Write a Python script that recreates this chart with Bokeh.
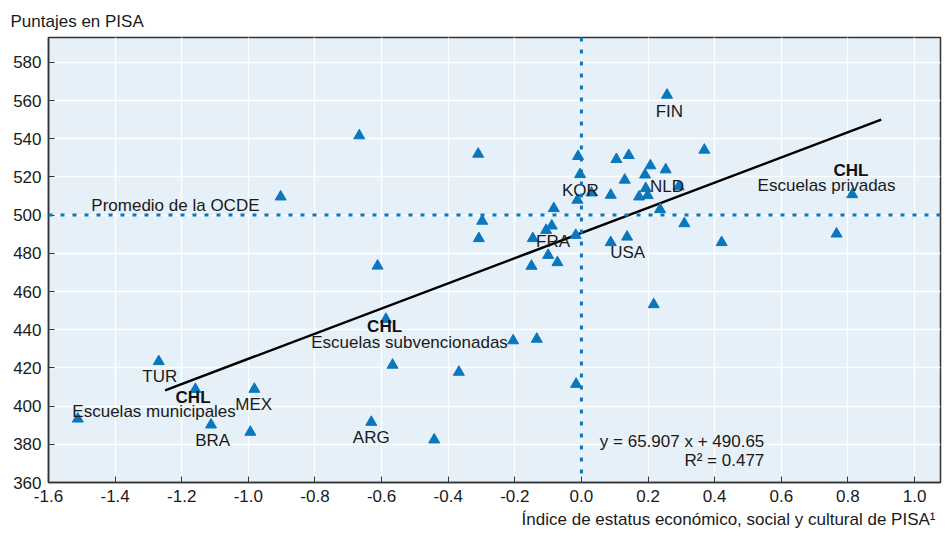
from bokeh.plotting import figure
from bokeh.models import Span, Label, Title, FixedTicker, Range1d
from bokeh.core.properties import value
from bokeh.embed import file_html
from bokeh.resources import INLINE

# ---- data ----
escs = [-1.512, -1.159, -1.269, -0.982, -1.112, -0.994, -0.631, -0.442, -0.587, -0.567,
        -0.368, -0.205, -0.134, -0.016, -0.667, -0.310, -0.298, -0.308, -0.612, -0.903,
        -0.083, -0.089, -0.106, -0.146, -0.100, -0.150, -0.072, 0.257, -0.010, 0.105,
        0.142, 0.369, 0.207, 0.253, -0.004, 0.191, 0.130, 0.193, 0.292, 0.030,
        0.088, 0.173, 0.199, -0.012, 0.236, 0.309, -0.017, 0.088, 0.137, 0.421,
        0.217, 0.813, 0.766]
scores = [393.3, 408.8, 423.4, 408.9, 390.2, 386.4, 391.6, 382.4, 445.5, 421.5,
          417.8, 434.3, 435.1, 411.5, 541.6, 532.0, 496.9, 487.8, 473.4, 509.6,
          503.5, 494.4, 492.1, 487.8, 479.0, 473.3, 475.2, 562.9, 530.8, 529.2,
          531.3, 534.1, 525.9, 523.8, 521.3, 521.1, 518.4, 514.0, 514.9, 511.7,
          510.5, 509.6, 510.3, 507.9, 503.0, 495.6, 489.5, 485.7, 488.6, 485.7,
          453.2, 510.8, 490.2]

country_labels = ["FIN", "KOR", "NLD", "FRA", "USA", "TUR", "MEX", "BRA", "ARG"]
country_label_x = [0.264, -0.003, 0.257, -0.085, 0.139, -1.266, -0.984, -1.107, -0.631]
country_label_y = [554.2, 513.1, 514.8, 486.0, 480.2, 415.6, 400.9, 382.0, 383.7]

chl_labels = ["CHL", "CHL", "CHL"]
chl_label_x = [-1.166, -0.591, 0.809]
chl_label_y = [404.7, 441.8, 523.6]

school_labels = ["Escuelas municipales", "Escuelas subvencionadas", "Escuelas privadas"]
school_label_x = [-1.283, -0.516, 0.736]
school_label_y = [397.2, 433.2, 515.5]

oecd_mean = 500
oecd_label = "Promedio de la OCDE"
slope = 65.907
intercept = 490.65
r2 = 0.477
fit_x = [-1.25, 0.9]
fit_y = [slope * v + intercept for v in fit_x]

x_ticks = [-1.6, -1.4, -1.2, -1.0, -0.8, -0.6, -0.4, -0.2, 0.0, 0.2, 0.4, 0.6, 0.8, 1.0]
y_ticks = [360, 380, 400, 420, 440, 460, 480, 500, 520, 540, 560, 580]

y_title = "Puntajes en PISA"
x_title = "Índice de estatus económico, social y cultural de PISA¹"

# ---- styles ----
FONT = "Liberation Sans"
BLUE = "#0A77BD"
DARK = "#333333"
BG = "#E5F0F8"
TXT = "#1a1a1a"

p = figure(width=942, height=537, output_backend="svg", toolbar_location=None,
           x_range=Range1d(-1.6, 1.078), y_range=Range1d(360, 593),
           min_border_left=48, min_border_right=2, min_border_top=37, min_border_bottom=55)
p.background_fill_color = BG
p.border_fill_color = "white"
p.outline_line_color = DARK
p.outline_line_width = 1.5

p.title.text = y_title
p.title.align = "left"
p.title.offset = -38
p.title.text_font = FONT
p.title.text_font_size = "17px"
p.title.text_font_style = "normal"
p.title.text_color = TXT
p.title.standoff = 14

p.xgrid.grid_line_color = "white"
p.ygrid.grid_line_color = "white"
p.xgrid.grid_line_width = 1.5
p.ygrid.grid_line_width = 1.5

p.xaxis.ticker = FixedTicker(ticks=x_ticks)
p.yaxis.ticker = FixedTicker(ticks=y_ticks)
p.xaxis.major_label_overrides = {t: f"{t:.1f}" for t in x_ticks}
for ax in (p.xaxis, p.yaxis):
    ax.axis_line_color = DARK
    ax.axis_line_width = 1.5
    ax.major_tick_line_color = DARK
    ax.major_tick_line_width = 1
    ax.major_tick_in = 6
    ax.major_tick_out = 0
    ax.minor_tick_line_color = None
    ax.major_label_text_font = FONT
    ax.major_label_text_font_size = "17px"
    ax.major_label_text_color = TXT
    ax.major_label_standoff = 7

p.add_layout(Span(location=0, dimension="height", line_color=BLUE, line_width=3, line_dash="4 8"))
p.add_layout(Span(location=oecd_mean, dimension="width", line_color=BLUE, line_width=3, line_dash="4 8"))

p.line(fit_x, fit_y, line_color="black", line_width=2.5)

p.scatter(escs, scores, marker="triangle", size=11, fill_color=BLUE, line_color=BLUE)

txt = dict(text_font=value(FONT), text_font_size="17px", text_color=TXT,
           text_align="center", text_baseline="middle")
p.text(country_label_x, country_label_y, text=country_labels, **txt)
p.text(school_label_x, school_label_y, text=school_labels, **txt)
p.text(chl_label_x, chl_label_y, text=chl_labels, text_font=value(FONT), text_font_size="17px",
       text_font_style="bold", text_color="#111111", text_align="center", text_baseline="middle")

p.add_layout(Label(x=-1.219, y=505.2, text=oecd_label, text_font=FONT, text_font_size="17px",
                   text_color=TXT, text_align="center", text_baseline="middle"))
p.add_layout(Label(x=0.549, y=381.5, text=f"y = {slope} x + {intercept}", text_font=FONT,
                   text_font_size="17px", text_color=TXT, text_align="right", text_baseline="middle"))
p.add_layout(Label(x=0.549, y=371.5, text=f"R² = {r2}", text_font=FONT,
                   text_font_size="17px", text_color=TXT, text_align="right", text_baseline="middle"))

p.add_layout(Title(text=x_title, align="right", offset=5, text_font=FONT, text_font_size="17px",
                   text_font_style="normal", text_color=TXT, standoff=6), "below")

open("out.html", "w").write(file_html(p, INLINE))
